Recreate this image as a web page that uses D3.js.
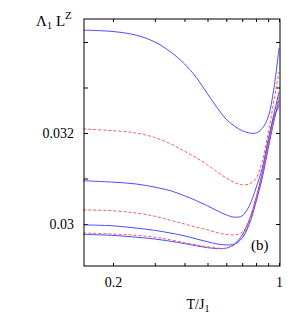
<!DOCTYPE html>
<html>
<head>
<meta charset="utf-8">
<script src="https://cdn.jsdelivr.net/npm/d3@7"></script>
<style>
  body { margin: 0; background: #fff; }
  svg text { font-family: "Times New Roman", "Liberation Serif", Times, serif !important; fill: #000; }
</style>
</head>
<body>
<div id="chart"></div>
<script>
// temperature grid T/J1
const temps = [0.15, 0.2, 0.25, 0.3, 0.35, 0.4, 0.45, 0.5, 0.55, 0.6, 0.65, 0.7, 0.75, 0.8, 0.85, 0.9, 0.95, 1.0];

// Lambda_1 L^Z, top to bottom
const blue1 = [0.03426, 0.03423, 0.03415, 0.03400, 0.03378, 0.03352, 0.03321, 0.03286, 0.03255, 0.03230, 0.03215, 0.03205, 0.03200, 0.03200, 0.03210, 0.03235, 0.03295, 0.03387];
const red1  = [0.03209, 0.03205, 0.03200, 0.03190, 0.03176, 0.03160, 0.03145, 0.03130, 0.03114, 0.03101, 0.03091, 0.03086, 0.03088, 0.03100, 0.03138, 0.03200, 0.03268, 0.03334];
const blue2 = [0.03095, 0.03092, 0.03088, 0.03081, 0.03073, 0.03062, 0.03051, 0.03040, 0.03029, 0.03020, 0.03015, 0.03018, 0.03040, 0.03079, 0.03123, 0.03185, 0.03240, 0.03290];
const red2  = [0.03031, 0.03029, 0.03024, 0.03017, 0.03008, 0.03000, 0.02993, 0.02987, 0.02981, 0.02977, 0.02976, 0.02982, 0.03009, 0.03057, 0.03110, 0.03174, 0.03233, 0.03281];
const blue3 = [0.02998, 0.02996, 0.02991, 0.02986, 0.02980, 0.02974, 0.02967, 0.02961, 0.02956, 0.02954, 0.02956, 0.02969, 0.03000, 0.03048, 0.03101, 0.03165, 0.03224, 0.03273];
const red3  = [0.02980, 0.02978, 0.02975, 0.02971, 0.02965, 0.02959, 0.02954, 0.02950, 0.02947, 0.02947, 0.02954, 0.02971, 0.03004, 0.03051, 0.03105, 0.03171, 0.03229, 0.03264];
const blue4 = [0.02977, 0.02975, 0.02971, 0.02967, 0.02962, 0.02957, 0.02952, 0.02948, 0.02946, 0.02947, 0.02956, 0.02976, 0.03009, 0.03057, 0.03112, 0.03176, 0.03233, 0.03259];

const xTicks = [0.2, 0.3, 0.4, 0.5, 0.6, 0.7, 0.8, 0.9, 1.0];
const xLabels = { 0.2: "0.2", 1: "1" };
const yTicks = [0.030, 0.031, 0.032, 0.033, 0.034];
const yLabels = { 0.03: "0.03", 0.032: "0.032" };

const series = [
    { values: blue4, color: "#4d4dff", dash: null },
    { values: red3, color: "#ff5959", dash: "3,2" },
    { values: blue3, color: "#4d4dff", dash: null },
    { values: red2, color: "#ff5959", dash: "3,2" },
    { values: blue2, color: "#4d4dff", dash: null },
    { values: red1, color: "#ff5959", dash: "3,2" },
    { values: blue1, color: "#4d4dff", dash: null }
];

const width = 307;
const height = 314;
const margin = { top: 19, right: 27, bottom: 48, left: 84 };

const svg = d3.select("#chart")
    .append("svg")
    .attr("width", width)
    .attr("height", height)
    .attr("font-family", "Times New Roman, Liberation Serif, serif");

const x = d3.scaleLog()
    .domain([0.151, 1.0097])
    .range([margin.left, width - margin.right]);

const y = d3.scaleLinear()
    .domain([0.029077, 0.034505])
    .range([height - margin.bottom, margin.top]);

const plotW = width - margin.left - margin.right;
const plotH = height - margin.top - margin.bottom;

// axes, ticks pointing inward on all four sides
svg.append("g")
    .attr("transform", `translate(0, ${height - margin.bottom})`)
    .call(d3.axisBottom(x).tickValues(xTicks).tickSizeInner(-3).tickSizeOuter(0)
        .tickFormat(d => xLabels[d] || ""))
    .call(g => g.select(".domain").remove())
    .attr("font-family", null)
    .call(g => g.selectAll("text").attr("dy", 0).attr("y", 21).style("font-size", "14px"));

svg.append("g")
    .attr("transform", `translate(0, ${margin.top})`)
    .call(d3.axisTop(x).tickValues(xTicks).tickSizeInner(-3).tickSizeOuter(0).tickFormat(""))
    .call(g => g.select(".domain").remove());

svg.append("g")
    .attr("transform", `translate(${margin.left}, 0)`)
    .call(d3.axisLeft(y).tickValues(yTicks).tickSizeInner(-4).tickSizeOuter(0)
        .tickFormat(d => yLabels[+d.toFixed(3)] || ""))
    .call(g => g.select(".domain").remove())
    .attr("font-family", null)
    .call(g => g.selectAll("text").attr("x", -10).attr("dy", "0.35em").style("font-size", "14px"));

svg.append("g")
    .attr("transform", `translate(${width - margin.right}, 0)`)
    .call(d3.axisRight(y).tickValues(yTicks).tickSizeInner(-4).tickSizeOuter(0).tickFormat(""))
    .call(g => g.select(".domain").remove());

svg.selectAll(".tick line").attr("stroke", "#000");

const line = d3.line()
    .x((d, i) => x(temps[i]))
    .y(d => y(d))
    .curve(d3.curveCatmullRom.alpha(0.5));

svg.selectAll("path.curve")
    .data(series)
    .enter()
    .append("path")
    .attr("class", "curve")
    .attr("d", d => line(d.values))
    .attr("fill", "none")
    .attr("stroke", d => d.color)
    .attr("stroke-width", 1)
    .attr("stroke-dasharray", d => d.dash);

// frame
svg.append("rect")
    .attr("x", margin.left)
    .attr("y", margin.top)
    .attr("width", plotW)
    .attr("height", plotH)
    .attr("fill", "none")
    .attr("stroke", "#000")
    .attr("stroke-width", 1);

// y title
const yt = svg.append("text")
    .attr("x", 36)
    .attr("y", 26)
    .style("font-size", "15px");
yt.append("tspan").text("Λ");
yt.append("tspan").attr("dy", 3).style("font-size", "10px").text("1");
yt.append("tspan").attr("dy", -3).attr("dx", 4).text("L");
yt.append("tspan").attr("dy", -7).style("font-size", "11px").text("Z");

// x title
const xt = svg.append("text")
    .attr("x", 198)
    .attr("y", 309)
    .attr("text-anchor", "middle")
    .style("font-size", "14px");
xt.append("tspan").text("T/J");
xt.append("tspan").attr("dy", 3).style("font-size", "10px").text("1");

svg.append("text")
    .attr("x", 251)
    .attr("y", 250)
    .style("font-size", "15px")
    .text("(b)");
</script>
</body>
</html>
